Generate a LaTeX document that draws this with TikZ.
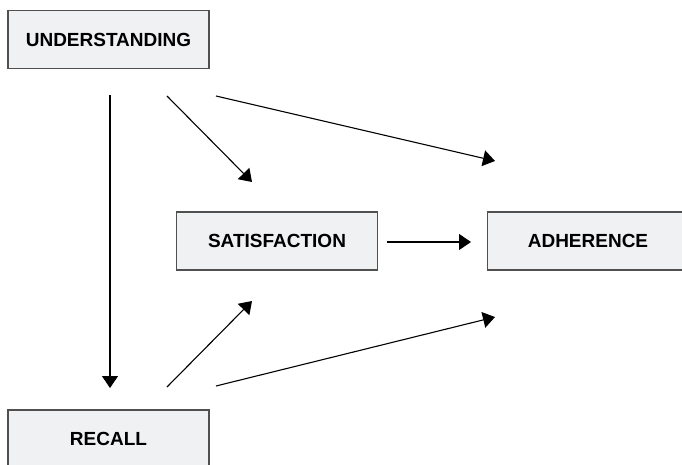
\documentclass[tikz,border=0pt]{standalone}
\usepackage{fontspec}
\setmainfont{Liberation Sans}
\usetikzlibrary{arrows.meta,positioning}
\definecolor{boxfill}{RGB}{240,241,243}
\definecolor{boxline}{RGB}{80,80,80}

\begin{document}
\begin{tikzpicture}[x=1pt,y=-1pt,
    varbox/.style={draw=boxline,fill=boxfill,line width=1.1pt,minimum width=201pt,
      minimum height=58pt,inner sep=0pt,font=\fontsize{19}{22}\selectfont\bfseries},
    link/.style={line width=1.1pt,-{Triangle[width=16pt,length=12pt]}}]
    \clip (0,0) rectangle (682,465);
    \useasboundingbox (0,0) rectangle (682,465);

		\node[varbox] (und) at (108.5, 39.5) {UNDERSTANDING};
		\node[varbox] (sat) at (277, 241) {SATISFACTION};
		\node[varbox] (adh) at (588, 241) {ADHERENCE};
		\node[varbox] (rec) at (108.5, 439) {RECALL};

    % ends of the arrows
		\coordinate (u1) at (110, 95);
		\coordinate (u2) at (167, 96);
		\coordinate (u3) at (216, 96);
		\coordinate (r1) at (110, 388);
		\coordinate (r2) at (167, 387);
		\coordinate (r3) at (216, 386);
		\coordinate (s1) at (252, 182);
		\coordinate (s2) at (252, 301);
		\coordinate (a1) at (495, 161);
		\coordinate (a2) at (495, 317);
		\coordinate (s3) at (387, 242);
		\coordinate (a3) at (471, 242);

		\draw[link] (u1) -- (r1);
		\draw[link] (u2) -- (s1);
		\draw[link] (u3) -- (a1);
		\draw[link] (r2) -- (s2);
		\draw[link] (r3) -- (a2);
		\draw[link] (s3) -- (a3);
	  \end{tikzpicture}
\end{document}
